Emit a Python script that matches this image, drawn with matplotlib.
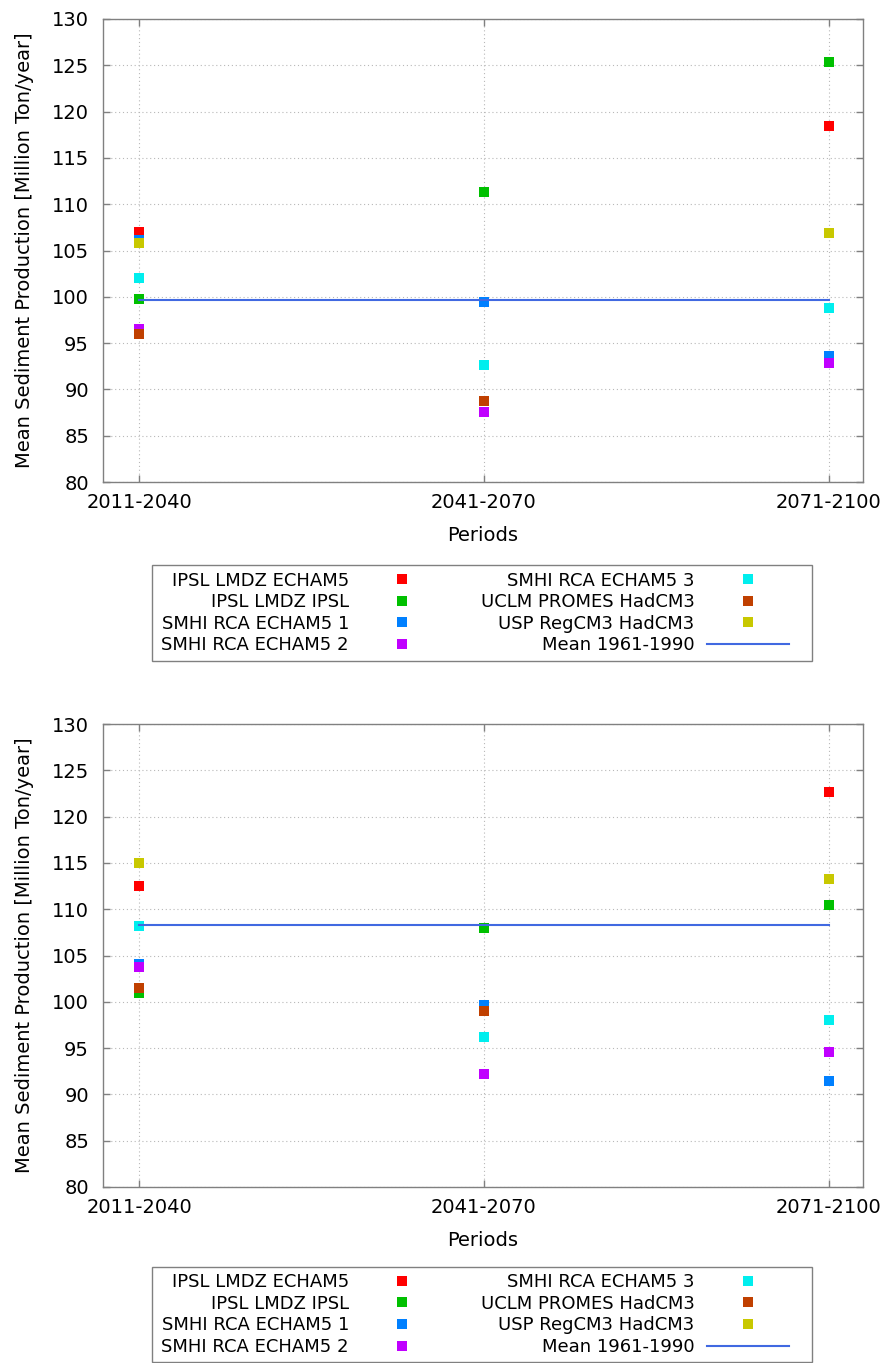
import numpy as np
import matplotlib
matplotlib.use("Agg")
from matplotlib import pyplot as plt
from matplotlib.patches import Rectangle

periods = ["2011-2040", "2041-2070", "2071-2100"]

models = ["IPSL LMDZ ECHAM5", "IPSL LMDZ IPSL", "SMHI RCA ECHAM5 1",
          "SMHI RCA ECHAM5 2", "SMHI RCA ECHAM5 3", "UCLM PROMES HadCM3",
          "USP RegCM3 HadCM3"]
colors = ["#ff0000", "#00c000", "#0080ff", "#c000ff", "#00eeee", "#c04000", "#c8c800"]
mean_color = "#4169e1"
nan = np.nan

# top panel
top_values = [
    [107.0, nan, 118.4],    # IPSL LMDZ ECHAM5
    [99.8, 111.3, 125.4],   # IPSL LMDZ IPSL
    [106.1, 99.4, 93.6],    # SMHI RCA ECHAM5 1
    [96.5, 87.6, 92.9],     # SMHI RCA ECHAM5 2
    [102.0, 92.6, 98.8],    # SMHI RCA ECHAM5 3
    [96.0, 88.8, nan],      # UCLM PROMES HadCM3
    [105.8, nan, 106.9],    # USP RegCM3 HadCM3
]
top_mean = 99.7

# bottom panel
bottom_values = [
    [112.5, nan, 122.7],
    [100.9, 108.0, 110.4],
    [104.1, 99.7, 91.5],
    [103.8, 92.2, 94.6],
    [108.2, 96.2, 98.0],
    [101.5, 99.0, nan],
    [115.0, nan, 113.3],
]
bottom_mean = 108.3

FS = 14
LEG_FS = 13
plt.rcParams['font.family'] = ['DejaVu Sans']
plt.rcParams['font.size'] = FS

fig = plt.figure(figsize=(8.86, 13.63), dpi=100)
W, H = 886, 1363
GREY = '#808080'


def make_axes(top_px, bottom_px):
	return fig.add_axes([103 / W, 1 - bottom_px / H, (863 - 103) / W, (bottom_px - top_px) / H])


def draw_panel(ax, values, mean_val):
	x = np.arange(len(periods))
	handles = []
	for name, col, vals in zip(models, colors, values):
		h, = ax.plot(x, vals, linestyle='none', marker='s', markersize=6.8,
					 color=col, markeredgewidth=0, label=name)
		handles.append(h)
	h, = ax.plot(x, [mean_val] * len(x), color=mean_color, linewidth=1.5,
				 label="Mean 1961-1990")
	handles.append(h)
	ax.set_xlim(-0.105, 2.1)
	ax.set_ylim(80, 130)
	ax.set_yticks(np.arange(80, 131, 5))
	ax.set_xticks(x)
	ax.set_xticklabels(periods)
	ax.grid(True, linestyle=(0, (1, 2.5)), color='#b8b8b8', linewidth=0.8)
	ax.set_axisbelow(True)
	for sp in ax.spines.values():
		sp.set_color(GREY)
		sp.set_linewidth(1.0)
	ax.tick_params(direction='in', length=5, width=1.0, color=GREY,
				   top=True, right=True, labelsize=FS)
	ax.tick_params(axis='y', pad=10)
	ax.tick_params(axis='x', pad=8)
	ax.set_xlabel("Periods", fontsize=FS, labelpad=10)
	ax.set_ylabel("Mean Sediment Production [Million Ton/year]", fontsize=FS, labelpad=13)
	return handles


def draw_legend(handles, box_top, box_bottom):
	fig.patches.append(Rectangle((152 / W, 1 - box_bottom / H), 660 / W,
								 (box_bottom - box_top) / H, transform=fig.transFigure,
								 fill=False, edgecolor=GREY, linewidth=1.0))
	yc = 1 - (box_top + box_bottom) / 2 / H
	fig.legend(handles=handles, loc='center', bbox_to_anchor=(475 / W, yc),
			   ncol=2, markerfirst=False, frameon=False,
			   fontsize=LEG_FS, handlelength=4.5, handletextpad=0.7,
			   columnspacing=2.1, labelspacing=0.2, borderpad=0,
			   borderaxespad=0)


ax1 = make_axes(19, 482)
h1 = draw_panel(ax1, top_values, top_mean)
draw_legend(h1, 565, 661)

ax2 = make_axes(724, 1187)
h2 = draw_panel(ax2, bottom_values, bottom_mean)
draw_legend(h2, 1267, 1362)

fig.savefig("out.png", dpi=100)
